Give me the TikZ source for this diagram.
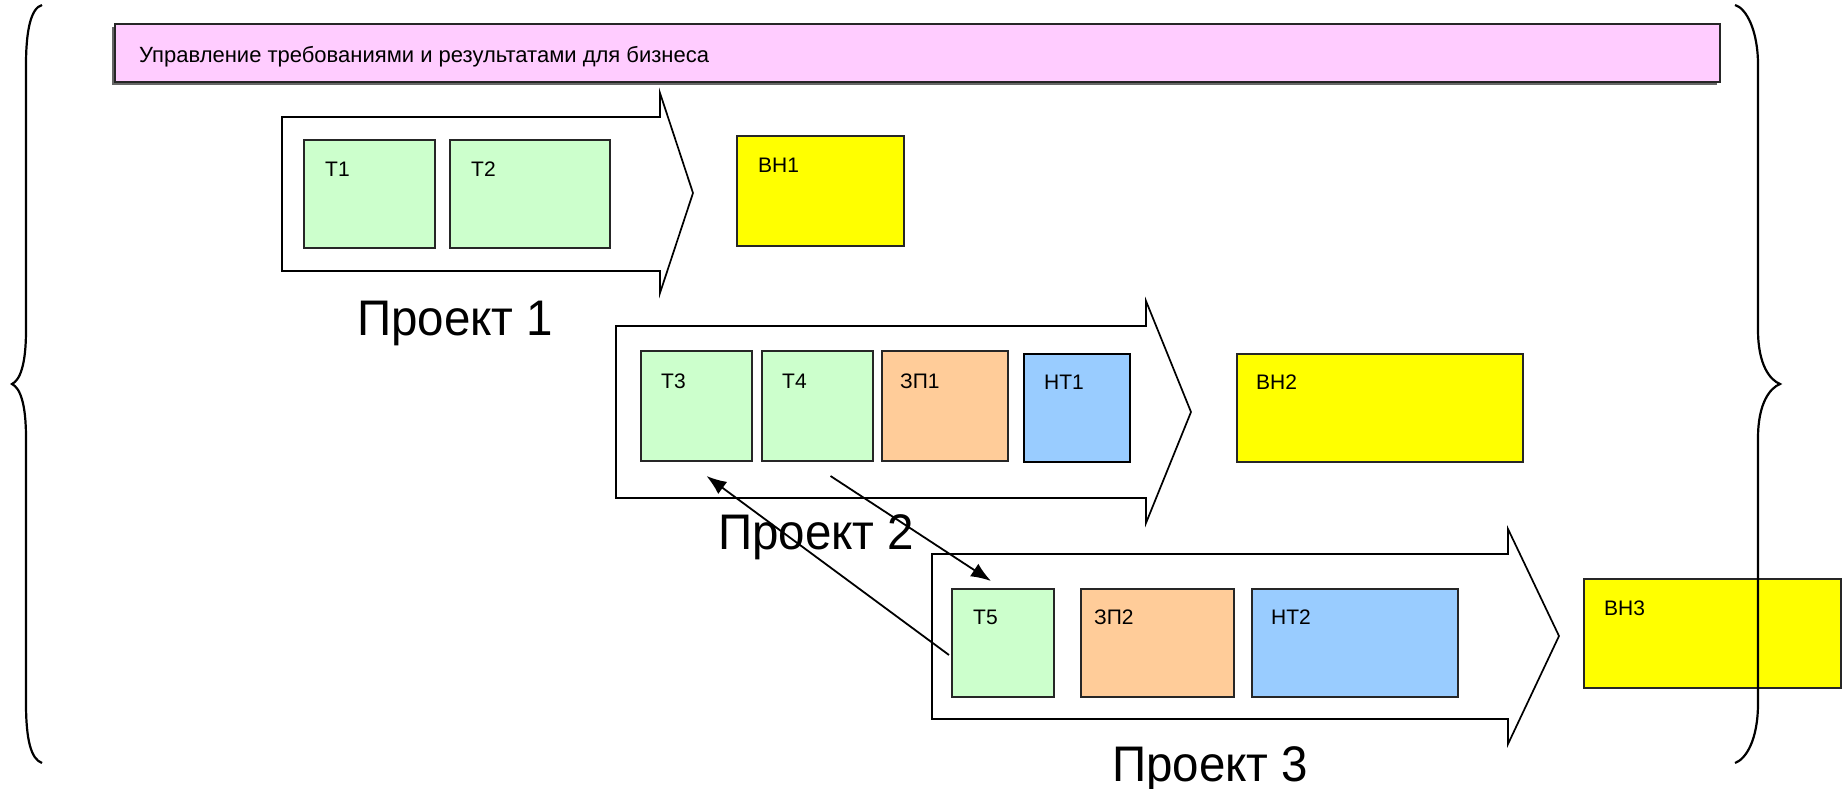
\documentclass[tikz,border=0pt]{standalone}
\usepackage{fontspec}
\setmainfont{Liberation Sans}
\newfontfamily\projfont[FakeStretch=0.95]{Liberation Sans}
\usetikzlibrary{arrows.meta,calc}
\definecolor{tgreen}{HTML}{CCFFCC}
\definecolor{torange}{HTML}{FFCC99}
\definecolor{tblue}{HTML}{99CCFF}
\definecolor{tyellow}{HTML}{FFFF00}
\definecolor{tpink}{HTML}{FFCCFF}
\tikzset{
  box/.style={draw=black!85, line width=1.3pt, anchor=north west, inner sep=0pt, outer sep=0pt},
  lbl/.style={anchor=base west, font=\fontsize{21}{25}\selectfont, inner sep=0pt},
  proj/.style={anchor=base west, font=\projfont\fontsize{50}{60}\selectfont, inner sep=0pt},
  bigarrow/.style={draw=black, line width=1.7pt, fill=white, line join=miter},
  brace/.style={draw=black, line width=2.2pt},
  conn/.style={draw=black, line width=1.8pt, -{Latex[length=20pt,width=15pt]}},
}
\begin{document}
\begin{tikzpicture}[x=1pt,y=-1pt]
\useasboundingbox (0,0) rectangle (1843,788);
% banner
\fill[black!60] (112,27) rectangle (1717,85);
\node[box, fill=tpink, minimum width=1605pt, minimum height=58pt] (banner) at (115,24) {};
\node[lbl, font=\fontsize{22}{26}\selectfont] (bannertext) at ($(banner.north west)+(24,38)$) {Управление требованиями и результатами для бизнеса};
% big arrows
\draw[bigarrow] (282,117) -- (660,117) -- (660,93) -- (693,193) -- (660,293) -- (660,271) -- (282,271) -- cycle;
\draw[bigarrow] (616,326) -- (1146,326) -- (1146,301) -- (1191,412) -- (1146,523) -- (1146,498) -- (616,498) -- cycle;
\node[proj] (p1) at (357,335) {Проект 1};
\node[proj] (p2) at (718,549) {Проект 2};
\draw[bigarrow] (932,554) -- (1508,554) -- (1508,529) -- (1559,636) -- (1508,744) -- (1508,719) -- (932,719) -- cycle;
\node[proj] (p3) at (1112,781) {Проект 3};
% project 1 boxes
\node[box, fill=tgreen, minimum width=131pt, minimum height=108pt] (t1) at (304,140) {};
\node[lbl] (t1l) at ($(t1.north west)+(21,36)$) {Т1};
\node[box, fill=tgreen, minimum width=160pt, minimum height=108pt] (t2) at (450,140) {};
\node[lbl] (t2l) at ($(t2.north west)+(21,36)$) {Т2};
\node[box, fill=tyellow, minimum width=167pt, minimum height=110pt] (bh1) at (737,136) {};
\node[lbl] (bh1l) at ($(bh1.north west)+(21,36)$) {ВН1};
% project 2 boxes
\node[box, fill=tgreen, minimum width=111pt, minimum height=110pt] (t3) at (641,351) {};
\node[lbl] (t3l) at ($(t3.north west)+(20,37)$) {Т3};
\node[box, fill=tgreen, minimum width=111pt, minimum height=110pt] (t4) at (762,351) {};
\node[lbl] (t4l) at ($(t4.north west)+(20,37)$) {Т4};
\node[box, fill=torange, minimum width=126pt, minimum height=110pt] (zp1) at (882,351) {};
\node[lbl] (zp1l) at ($(zp1.north west)+(18,37)$) {ЗП1};
\node[box, draw=black, line width=1.8pt, fill=tblue, minimum width=106pt, minimum height=108pt] (nt1) at (1024,354) {};
\node[lbl] (nt1l) at ($(nt1.north west)+(20,35)$) {НТ1};
\node[box, fill=tyellow, minimum width=286pt, minimum height=108pt] (bh2) at (1237,354) {};
\node[lbl] (bh2l) at ($(bh2.north west)+(19,35)$) {ВН2};
% project 3 boxes
\node[box, fill=tgreen, minimum width=102pt, minimum height=108pt] (t5) at (952,589) {};
\node[lbl] (t5l) at ($(t5.north west)+(21,35)$) {Т5};
\node[box, fill=torange, minimum width=153pt, minimum height=108pt] (zp2) at (1081,589) {};
\node[lbl] (zp2l) at ($(zp2.north west)+(13,35)$) {ЗП2};
\node[box, fill=tblue, minimum width=206pt, minimum height=108pt] (nt2) at (1252,589) {};
\node[lbl] (nt2l) at ($(nt2.north west)+(19,35)$) {НТ2};
\node[box, fill=tyellow, minimum width=257pt, minimum height=109pt] (bh3) at (1584,579) {};
\node[lbl] (bh3l) at ($(bh3.north west)+(20,36)$) {ВН3};
% connectors
\draw[conn] ($(t5.west)+(-3,12)$) -- ($(t3.south)+(10,15)$);
\draw[conn] ($(t4.south)+(13,15)$) -- ($(t5.north)+(-12,-8)$);
% braces
\draw[brace] (42,5) .. controls (31,8) and (26,30) .. (26,65) -- (26,330) .. controls (26,365) and (20,380) .. (12,384) .. controls (20,388) and (26,403) .. (26,438) -- (26,703) .. controls (26,740) and (31,759) .. (42,763);
\draw[brace] (1735,5) .. controls (1746,8) and (1758,30) .. (1758,65) -- (1758,330) .. controls (1758,365) and (1770,380) .. (1780,384) .. controls (1770,388) and (1758,403) .. (1758,438) -- (1758,703) .. controls (1758,740) and (1746,759) .. (1735,763);
\end{tikzpicture}
\end{document}
